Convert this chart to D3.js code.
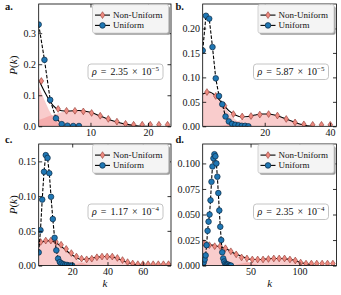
<!DOCTYPE html>
<meta charset="utf-8">
<script src="https://d3js.org/d3.v7.min.js"></script>
<style>
body { margin: 0; background: #fff; }
text { font-family: "Liberation Serif", "Times New Roman", serif; fill: #111; }
</style>
<body>
<div id="chart"></div>
</body>
<script>

// ---------- data ----------
const panelNames = ["a.", "b.", "c.", "d."];
const rhoMantissa = ["2.35", "5.87", "1.17", "2.35"];
const rhoExponent = ["\u22125", "\u22125", "\u22124", "\u22124"];
const kMax = [24, 42, 76, 138];
const pMax = [0.394, 0.25, 0.175, 0.119];
const xTicks = [[10, 20], [20, 40], [20, 40, 60], [50, 100]];
const yTicks = [[0, 0.1, 0.2, 0.3], [0, 0.05, 0.1, 0.15, 0.2], [0, 0.05, 0.1, 0.15], [0, 0.025, 0.05, 0.075, 0.1]];
const yFormats = [".1f", ".2f", ".2f", ".3f"];

// Uniform (blue circles, dashed)
const uniformK = [
  [1, 2, 3, 4, 5, 6, 7, 8],
  [1, 2, 3, 4, 5, 6, 7, 8, 9, 10, 11, 12, 13, 14, 15],
  [1, 2, 3, 4, 5, 6, 7, 8, 9, 10, 11, 12, 13, 14, 15, 16, 17, 18, 19, 20],
  [1, 2, 3, 4, 5, 6, 7, 8, 9, 10, 11, 12, 13, 14, 15, 16, 17, 18, 19, 20, 21, 22, 23, 24, 25, 26, 27, 28, 29, 30]
];
const uniformP = [
  [0.328, 0.214, 0.085, 0.026, 0.007, 0.002, 0.001, 0.001],
  [0.155, 0.226, 0.220, 0.162, 0.098, 0.062, 0.045, 0.020, 0.010, 0.005, 0.003, 0.002, 0.001, 0.001, 0.000],
  [0.019, 0.051, 0.095, 0.135, 0.159, 0.155, 0.133, 0.099, 0.067, 0.040, 0.022, 0.010, 0.005, 0.003, 0.002, 0.001, 0.001, 0.000, 0.000, 0.000],
  [0.001, 0.003, 0.006, 0.010, 0.020, 0.034, 0.043, 0.050, 0.064, 0.082, 0.097, 0.105, 0.109, 0.107, 0.100, 0.087, 0.071, 0.054, 0.038, 0.025, 0.013, 0.007, 0.004, 0.002, 0.001, 0.001, 0.001, 0.000, 0.000, 0.000]
];

// Non-Uniform (salmon diamonds)
const nonK = [
  [1.46, 2.92, 4.38, 5.84, 7.3, 8.76, 10.2, 11.7, 13.1, 14.6, 16.1, 17.5, 19.0, 20.4, 21.9, 23.4],
  [2.3, 5.0, 7.7, 10.4, 13.1, 15.8, 18.5, 21.2, 23.9, 26.6, 29.3, 32.0, 34.7, 37.4, 40.1],
  [2.1, 5.0, 7.9, 10.8, 13.7, 16.6, 19.5, 22.4, 25.3, 28.2, 31.1, 34.0, 36.9, 39.8, 42.7, 45.6, 48.5, 51.4, 54.3, 57.2, 60.1, 63.0, 65.9, 68.8, 71.7, 74.6],
  [2.3, 7.8, 13.3, 18.8, 24.3, 29.8, 35.3, 40.8, 46.3, 51.8, 57.3, 62.8, 68.3, 73.8, 79.3, 84.8, 90.3, 95.8, 101.3, 106.8, 112.3, 117.8, 123.3, 128.8, 134.3]
];
const nonP = [
  [0.146, 0.083, 0.056, 0.050, 0.050, 0.048, 0.043, 0.034, 0.024, 0.015, 0.008, 0.005, 0.005, 0.005, 0.005, 0.005],
  [0.070, 0.062, 0.042, 0.025, 0.020, 0.021, 0.024, 0.025, 0.022, 0.015, 0.008, 0.004, 0.003, 0.003, 0.003],
  [0.034, 0.036, 0.036, 0.034, 0.030, 0.024, 0.018, 0.013, 0.010, 0.009, 0.010, 0.012, 0.013, 0.013, 0.013, 0.011, 0.008, 0.005, 0.003, 0.002, 0.002, 0.002, 0.002, 0.002, 0.002, 0.002],
  [0.022, 0.020, 0.019, 0.019, 0.017, 0.014, 0.011, 0.008, 0.007, 0.006, 0.006, 0.006, 0.0065, 0.007, 0.007, 0.007, 0.006, 0.005, 0.003, 0.002, 0.002, 0.002, 0.002, 0.002, 0.002]
];

// Non-Uniform fit components (pink fills)
const fitK = [
  [1, 2, 3, 4, 5, 6, 8, 10, 12, 14, 16, 18, 20],
  [1, 3, 5, 7, 9, 11, 13, 15, 17, 19, 21, 23, 25, 27, 29, 31, 33, 35],
  [1, 4, 7, 10, 13, 16, 19, 22, 25, 28, 31, 34, 37, 40, 43, 46, 49, 52, 55, 58, 61],
  [1, 6, 11, 16, 21, 26, 31, 36, 41, 46, 51, 56, 61, 66, 71, 76, 81, 86, 91, 96, 101, 106, 111, 116]
];
const fitLow = [
  [0.130, 0.085, 0.045, 0.018, 0.005, 0, 0, 0, 0, 0, 0, 0, 0],
  [0.066, 0.070, 0.062, 0.046, 0.028, 0.014, 0.005, 0.001, 0, 0, 0, 0, 0, 0, 0, 0, 0, 0],
  [0.030, 0.035, 0.036, 0.034, 0.029, 0.023, 0.016, 0.010, 0.005, 0.002, 0.001, 0, 0, 0, 0, 0, 0, 0, 0, 0, 0],
  [0.020, 0.020, 0.020, 0.019, 0.018, 0.016, 0.013, 0.010, 0.007, 0.004, 0.002, 0.001, 0, 0, 0, 0, 0, 0, 0, 0, 0, 0, 0, 0]
];
const fitHigh = [
  [0.020, 0.027, 0.034, 0.040, 0.045, 0.049, 0.051, 0.045, 0.031, 0.017, 0.007, 0.002, 0],
  [0, 0, 0, 0.001, 0.004, 0.009, 0.014, 0.019, 0.023, 0.025, 0.025, 0.023, 0.019, 0.014, 0.009, 0.004, 0.001, 0],
  [0, 0, 0, 0, 0, 0, 0.001, 0.002, 0.004, 0.007, 0.010, 0.012, 0.013, 0.013, 0.012, 0.010, 0.007, 0.004, 0.002, 0.001, 0],
  [0, 0, 0, 0, 0, 0, 0, 0.001, 0.002, 0.003, 0.004, 0.005, 0.006, 0.0065, 0.007, 0.007, 0.007, 0.0065, 0.006, 0.005, 0.003, 0.002, 0.001, 0]
];

// ---------- layout ----------
const W = 341, H = 295;
const frames = [
  {x0: 38.7, x1: 171, y0: 4, y1: 126.3},
  {x0: 202.7, x1: 336.5, y0: 4, y1: 126.3},
  {x0: 38.7, x1: 171, y0: 144, y1: 265.6},
  {x0: 202.7, x1: 336.5, y0: 144, y1: 265.6}
];
const tickLen = 3.5;

const svg = d3.select("#chart").append("svg")
  .attr("width", W)
  .attr("height", H);

const diamond = "M0,-3.4L2.3,0L0,3.4L-2.3,0Z";

frames.forEach((f, i) => {
  const x = d3.scaleLinear().domain([1, kMax[i]]).range([f.x0, f.x1]);
  const y = d3.scaleLinear().domain([0, pMax[i]]).range([f.y1, f.y0]);

  svg.append("clipPath").attr("id", "clip" + i)
    .append("rect")
    .attr("x", f.x0).attr("y", f.y0)
    .attr("width", f.x1 - f.x0).attr("height", f.y1 - f.y0);

  const plot = svg.append("g").attr("clip-path", "url(#clip" + i + ")");

  // fills
  const area = d3.area()
    .x(d => x(d[0])).y0(y(0)).y1(d => y(d[1]))
    .curve(d3.curveMonotoneX);
  [fitLow[i], fitHigh[i]].forEach(comp => {
    plot.append("path")
      .datum(fitK[i].map((k, j) => [k, comp[j]]))
      .attr("d", area)
      .attr("fill", "#f08080")
      .attr("fill-opacity", 0.4);
  });

  // fit line (sum of components)
  const line = d3.line().x(d => x(d[0])).y(d => y(d[1]));
  plot.append("path")
    .datum(fitK[i].map((k, j) => [k, fitLow[i][j] + fitHigh[i][j]]))
    .attr("d", line.curve(d3.curveMonotoneX))
    .attr("fill", "none")
    .attr("stroke", "#000")
    .attr("stroke-width", 1.1);

  plot.selectAll(".non")
    .data(nonK[i].map((k, j) => [k, nonP[i][j]]))
    .enter().append("path")
    .attr("transform", d => `translate(${x(d[0])},${y(d[1])})`)
    .attr("d", diamond)
    .attr("fill", "#ee8a80")
    .attr("stroke", "#8e3a34")
    .attr("stroke-width", 0.6);

  // uniform
  plot.append("path")
    .datum(uniformK[i].map((k, j) => [k, uniformP[i][j]]))
    .attr("d", d3.line().x(d => x(d[0])).y(d => y(d[1])))
    .attr("fill", "none")
    .attr("stroke", "#000")
    .attr("stroke-width", 1.1)
    .attr("stroke-dasharray", "3.5,1.6");

  plot.selectAll(".uni")
    .data(uniformK[i].map((k, j) => [k, uniformP[i][j]]))
    .enter().append("circle")
    .attr("cx", d => x(d[0]))
    .attr("cy", d => y(d[1]))
    .attr("r", 2.8)
    .attr("fill", "#1f77b4")
    .attr("stroke", "#0d2a44")
    .attr("stroke-width", 0.7);

  // axes
  const styleAxis = g => {
    g.select(".domain").remove();
    g.selectAll("line").attr("stroke", "#000").attr("stroke-width", 0.8);
    g.selectAll("text")
      .attr("font-family", "Liberation Serif, serif")
      .attr("font-size", 10)
      .attr("fill", "#111");
  };
  svg.append("g").attr("transform", `translate(0,${f.y1})`)
    .call(d3.axisBottom(x).tickValues(xTicks[i]).tickSize(-tickLen).tickPadding(2.3))
    .call(styleAxis);
  svg.append("g").attr("transform", `translate(0,${f.y0})`)
    .call(d3.axisTop(x).tickValues(xTicks[i]).tickSize(-tickLen).tickFormat(""))
    .call(styleAxis);
  svg.append("g").attr("transform", `translate(${f.x0},0)`)
    .call(d3.axisLeft(y).tickValues(yTicks[i]).tickSize(-tickLen).tickPadding(2.6).tickFormat(d3.format(yFormats[i])))
    .call(styleAxis);
  svg.append("g").attr("transform", `translate(${f.x1},0)`)
    .call(d3.axisRight(y).tickValues(yTicks[i]).tickSize(-tickLen).tickFormat(""))
    .call(styleAxis);

  svg.append("rect")
    .attr("x", f.x0).attr("y", f.y0)
    .attr("width", f.x1 - f.x0).attr("height", f.y1 - f.y0)
    .attr("fill", "none")
    .attr("stroke", "#000")
    .attr("stroke-width", 0.8);

  // legend
  const lx = f.x1 - 78.5, ly = f.y0 + 0.6;
  svg.append("rect")
    .attr("x", lx + 1.6).attr("y", ly + 1.6)
    .attr("width", 76).attr("height", 28.5).attr("rx", 2)
    .attr("fill", "#9a9a9a");
  svg.append("rect")
    .attr("x", lx).attr("y", ly)
    .attr("width", 76).attr("height", 28.5).attr("rx", 2)
    .attr("fill", "#f4f4f4")
    .attr("stroke", "#c8c8c8")
    .attr("stroke-width", 0.8);
  const rows = [
    {label: "Non-Uniform", dy: 10.5, mark: "d"},
    {label: "Uniform", dy: 20.8, mark: "c"}
  ];
  rows.forEach(r => {
    const cy = ly + r.dy;
    svg.append("line")
      .attr("x1", lx + 2.5).attr("x2", lx + 17.5)
      .attr("y1", cy).attr("y2", cy)
      .attr("stroke", "#000").attr("stroke-width", 1.1);
    if (r.mark === "d") {
      svg.append("path")
        .attr("transform", `translate(${lx + 10},${cy})`)
        .attr("d", diamond)
        .attr("fill", "#ee8a80").attr("stroke", "#8e3a34").attr("stroke-width", 0.6);
    } else {
      svg.append("circle")
        .attr("cx", lx + 10).attr("cy", cy).attr("r", 2.8)
        .attr("fill", "#1f77b4").attr("stroke", "#0d2a44").attr("stroke-width", 0.7);
    }
    svg.append("text")
      .attr("x", lx + 20.5).attr("y", cy)
      .attr("dy", "0.33em")
      .attr("font-size", 9)
      .text(r.label);
  });

  // rho box
  const bx = f.x1 - 83, by = f.y0 + 60;
  svg.append("rect")
    .attr("x", bx).attr("y", by)
    .attr("width", 75).attr("height", 15.5).attr("rx", 3)
    .attr("fill", "#fff")
    .attr("stroke", "#b5b5b5")
    .attr("stroke-width", 0.8);
  const t = svg.append("text")
    .attr("x", bx + 37.5).attr("y", by + 11.2)
    .attr("text-anchor", "middle")
    .attr("font-size", 10)
    .attr("word-spacing", "1.5px");
  t.append("tspan").attr("font-style", "italic").text("\u03c1");
  t.append("tspan").text(" = " + rhoMantissa[i] + " \u00d7 10");
  t.append("tspan").attr("dy", -4).attr("font-size", 7).text(rhoExponent[i]);

  // panel letter
  svg.append("text")
    .attr("x", i % 2 === 0 ? 5 : 175.5)
    .attr("y", i < 2 ? 10 : 143)
    .attr("font-size", 10.5)
    .attr("font-weight", "bold")
    .text(panelNames[i]);

  if (i % 2 === 0) {
    const yl = svg.append("text")
      .attr("transform", `translate(16.5,${(f.y0 + f.y1) / 2}) rotate(-90)`)
      .attr("text-anchor", "middle")
      .attr("font-size", 11);
    yl.append("tspan").attr("font-style", "italic").text("P");
    yl.append("tspan").text("(");
    yl.append("tspan").attr("font-style", "italic").text("k");
    yl.append("tspan").text(")");
  }
  if (i >= 2) {
    svg.append("text")
      .attr("x", (f.x0 + f.x1) / 2).attr("y", 287)
      .attr("text-anchor", "middle")
      .attr("font-size", 11)
      .attr("font-style", "italic")
      .text("k");
  }
});

</script>
